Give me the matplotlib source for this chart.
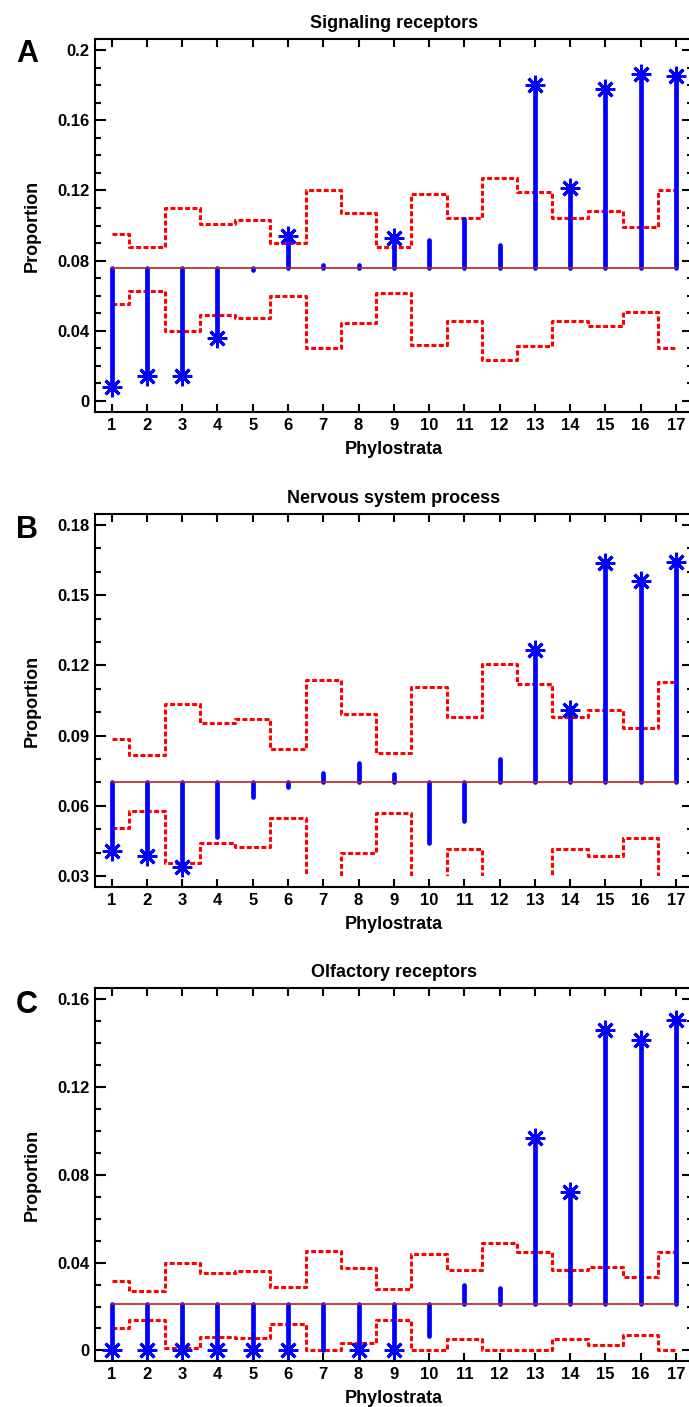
import matplotlib
matplotlib.use('Agg')
import matplotlib.pyplot as plt
import matplotlib.transforms as mtransforms
from matplotlib.ticker import MultipleLocator, FuncFormatter
import numpy as np

plt.rcParams['font.family'] = ['Liberation Sans', 'DejaVu Sans']
plt.rcParams['font.weight'] = 'bold'

phylostrata = list(range(1, 18))

# A - signaling receptors
sig_base = 0.0755
sig_obs = [0.008, 0.0143, 0.0143, 0.0357, 0.0745, 0.094, 0.0773, 0.0773, 0.0927,
           0.0918, 0.1036, 0.0891, 0.180, 0.1214, 0.1777, 0.1862, 0.185]
sig_upper = [0.095, 0.0876, 0.110, 0.101, 0.103, 0.090, 0.120, 0.107, 0.088,
             0.118, 0.1045, 0.127, 0.119, 0.1045, 0.108, 0.099, 0.120]
sig_lower = [0.0551, 0.0627, 0.040, 0.0492, 0.0471, 0.0599, 0.030, 0.0445, 0.0616,
             0.0321, 0.0454, 0.0232, 0.0312, 0.0454, 0.0428, 0.0507, 0.030]
sig_stars = [1, 2, 3, 4, 6, 9, 13, 14, 15, 16, 17]

# B - nervous system process
nerv_base = 0.070
nerv_obs = [0.0408, 0.0387, 0.034, 0.0468, 0.0639, 0.0679, 0.0742, 0.0781, 0.0736,
            0.0442, 0.0536, 0.0801, 0.1266, 0.1009, 0.1636, 0.1561, 0.1643]
nerv_upper = [0.0887, 0.0817, 0.1035, 0.0952, 0.097, 0.0844, 0.1136, 0.0994, 0.0824,
              0.1108, 0.098, 0.1205, 0.1122, 0.098, 0.1009, 0.0932, 0.113]
nerv_lower = [0.0507, 0.0578, 0.0357, 0.0442, 0.0425, 0.0549, 0.022, 0.040, 0.0568,
              0.024, 0.0414, 0.021, 0.023, 0.0414, 0.0385, 0.0461, 0.022]
nerv_stars = [1, 2, 3, 13, 14, 15, 16, 17]

# C - olfactory receptors
olf_base = 0.021
olf_obs = [0, 0, 0, 0, 0, 0, 0, 0, 0, 0.0067, 0.030, 0.0284, 0.0966, 0.0722,
           0.1459, 0.1413, 0.1504]
olf_upper = [0.0315, 0.0272, 0.0398, 0.0353, 0.036, 0.0287, 0.0455, 0.0374, 0.028,
             0.0441, 0.0367, 0.049, 0.0446, 0.0367, 0.038, 0.0336, 0.0446]
olf_lower = [0.010, 0.014, 0.001, 0.0062, 0.0056, 0.0122, 0.0, 0.0035, 0.014,
             0.0, 0.0053, 0.0, 0.0, 0.0053, 0.0026, 0.0071, 0.0]
olf_stars = [1, 2, 3, 4, 5, 6, 8, 9, 13, 14, 15, 16, 17]


def fmt(v, pos):
    s = '%.2f' % v
    s = s.rstrip('0').rstrip('.')
    return s


def draw_panel(ax, title, base, obs, upper, lower, stars, ylim, major, clip_low=None):
    x = np.array(phylostrata)
    obs = np.array(obs)
    ax.plot(x, upper, drawstyle='steps-mid', color='#FF0000', lw=2.2,
            linestyle=(0, (1.6, 0.8)), zorder=2)
    low_line, = ax.plot(x, lower, drawstyle='steps-mid', color='#FF0000', lw=2.2,
                        linestyle=(0, (1.6, 0.8)), zorder=2)
    if clip_low is not None:
        bb = mtransforms.Bbox([[0.52, clip_low], [17.47, ylim[1]]])
        low_line.set_clip_box(mtransforms.TransformedBbox(bb, ax.transData))
    stems = ax.vlines(x, base, obs, color='#0000FF', lw=3.4, zorder=3)
    stems.set_capstyle('round')
    ax.plot([x[0], x[-1]], [base, base], color='#B22222', lw=1.2, zorder=4)
    idx = [p - 1 for p in stars]
    ax.plot(x[idx], obs[idx], linestyle='none', marker=(8, 2, 0), markersize=14,
            mew=2.1, color='#0000FF', zorder=5)

    ax.set_xlim(0.52, 17.47)
    ax.set_ylim(*ylim)
    ax.set_xticks(x)
    ax.yaxis.set_major_locator(MultipleLocator(major))
    ax.yaxis.set_minor_locator(MultipleLocator(0.01))
    ax.yaxis.set_major_formatter(FuncFormatter(fmt))
    ax.tick_params(axis='both', which='both', direction='in', top=True, right=True,
                   width=1.5, labelsize=12)
    ax.tick_params(axis='x', which='major', length=5.8, pad=4.5)
    ax.tick_params(axis='y', which='major', length=8, pad=4)
    ax.tick_params(axis='y', which='minor', length=4.3)
    for sp in ax.spines.values():
        sp.set_linewidth(1.5)
    ax.set_title(title, fontsize=13, fontweight='bold', pad=8)
    ax.set_xlabel('Phylostrata', fontsize=13, fontweight='bold')
    ax.set_ylabel('Proportion', fontsize=13, fontweight='bold')
    ax.xaxis.set_label_coords(0.5, -0.078)
    ax.yaxis.set_label_coords(-0.09, 0.5)


W, H = 689, 1407
fig = plt.figure(figsize=(W / 100, H / 100), dpi=100)

left = 94.7 / W
width = (692.5 - 94.7) / W
panels = [
    (39, 412, 'Signaling receptors', 'A', 54.5, sig_base, sig_obs, sig_upper, sig_lower,
     sig_stars, (-0.0063, 0.2063), 0.04, None),
    (514, 887, 'Nervous system process', 'B', 529.7, nerv_base, nerv_obs, nerv_upper,
     nerv_lower, nerv_stars, (0.0253, 0.1847), 0.03, 0.03),
    (988, 1361, 'Olfactory receptors', 'C', 1005, olf_base, olf_obs, olf_upper, olf_lower,
     olf_stars, (-0.0048, 0.165), 0.04, None),
]

for top, bot, title, letter, ly, base, obs, up, lo, st, ylim, major, clip in panels:
    ax = fig.add_axes([left, 1 - bot / H, width, (bot - top) / H])
    draw_panel(ax, title, base, obs, up, lo, st, ylim, major, clip)
    fig.text(27 / W, 1 - ly / H, letter, fontsize=22, fontweight='bold',
             ha='center', va='center')

fig.savefig('out.png', dpi=100)
